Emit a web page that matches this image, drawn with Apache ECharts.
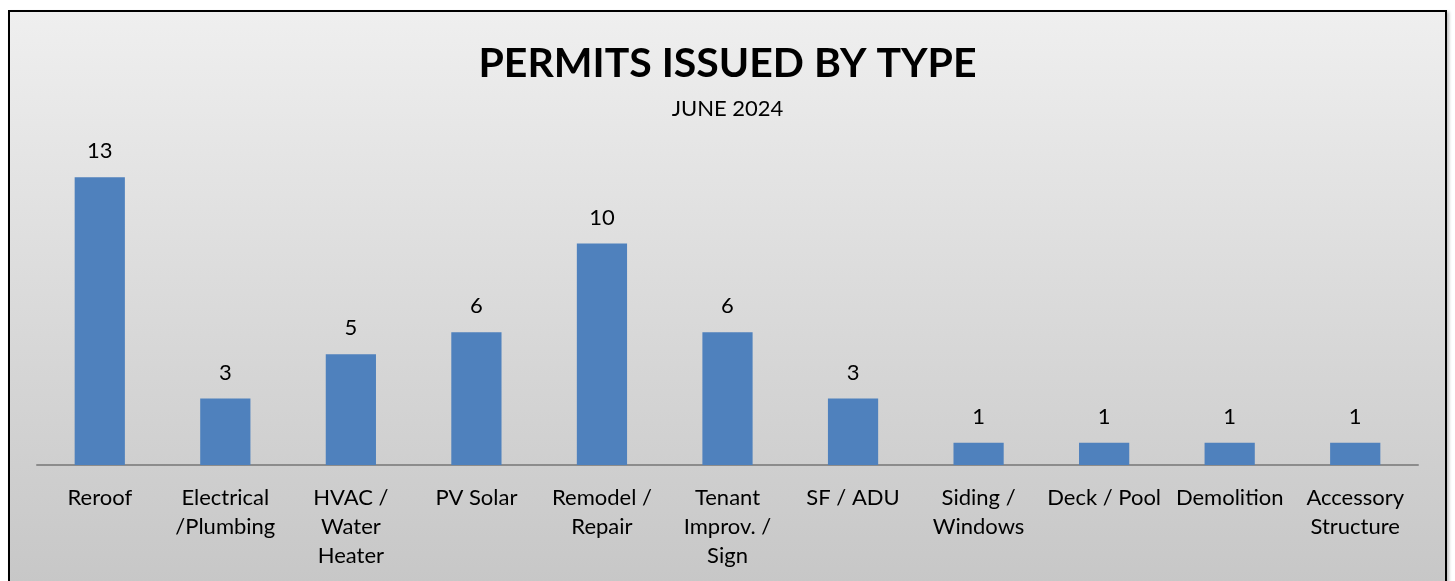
<!DOCTYPE html>
<html>
<head>
<meta charset="utf-8">
<script src="https://cdn.jsdelivr.net/npm/echarts@6/dist/echarts.min.js"></script>
<style>
  html, body { margin: 0; padding: 0; background: #fff; }
  .frame {
    position: absolute;
    left: 8px;
    top: 10px;
    width: 1439px;
    height: 590px;
    box-sizing: border-box;
    border: 2px solid #000;
    background: linear-gradient(to bottom, #efefef 0%, #d8d8d8 55%, #c6c6c6 100%);
    box-shadow: 2px 2px 3px rgba(0,0,0,0.25);
  }
  #chart { width: 1435px; height: 586px; }
</style>
</head>
<body>
<div class="frame"><div id="chart"></div></div>
<script>
const categories = [
  "Reroof", "Electrical\n/Plumbing", "HVAC /\nWater\nHeater", "PV Solar",
  "Remodel /\nRepair", "Tenant\nImprov. /\nSign", "SF / ADU", "Siding /\nWindows",
  "Deck / Pool", "Demolition", "Accessory\nStructure"
];
const permits = [13, 3, 5, 6, 10, 6, 3, 1, 1, 1, 1];

const font = "Lato, 'Open Sans', sans-serif";
const chart = echarts.init(document.getElementById("chart"));

chart.setOption({
  animation: false,
  backgroundColor: "transparent",
  title: {
    text: "PERMITS ISSUED BY TYPE",
    subtext: "JUNE 2024",
    left: "center",
    top: 26,
    itemGap: 14,
    textStyle: { fontFamily: font, fontWeight: "bold", fontSize: 41, color: "#000" },
    subtextStyle: { fontFamily: font, fontSize: 22, color: "#000" }
  },
  grid: { left: 27, right: 27, top: 143, bottom: 133 },
  xAxis: {
    type: "category",
    data: categories,
    axisLine: { lineStyle: { color: "#8c8c8c", width: 2 } },
    axisTick: { show: false },
    axisLabel: {
      interval: 0,
      margin: 18,
      color: "#000",
      fontFamily: font,
      fontSize: 22,
      lineHeight: 29,
      align: "center"
    }
  },
  yAxis: {
    type: "value",
    min: 0,
    max: 14,
    show: false
  },
  series: [{
    type: "bar",
    data: permits,
    barWidth: "40%",
    itemStyle: { color: "#4f81bd" },
    label: {
      show: true,
      position: "top",
      distance: 15,
      color: "#000",
      fontFamily: font,
      fontSize: 22
    }
  }]
});
</script>
</body>
</html>
